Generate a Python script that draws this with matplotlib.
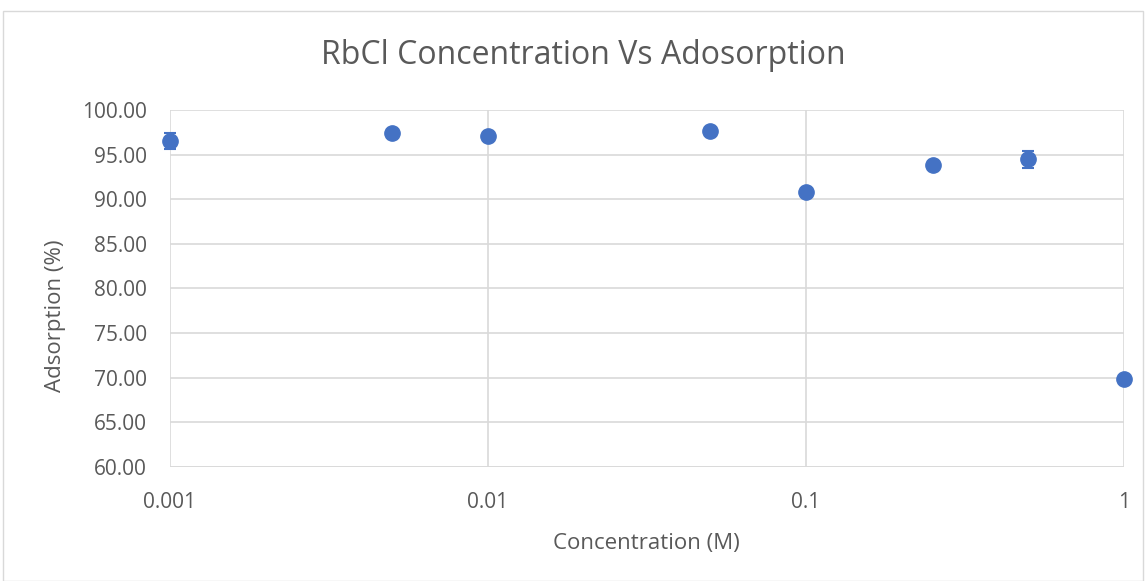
import matplotlib.pyplot as plt
from matplotlib.patches import Rectangle
from matplotlib.ticker import FixedLocator, NullLocator, FuncFormatter

plt.rcParams['font.family'] = ['Open Sans', 'DejaVu Sans']

# RbCl adsorption data
conc = [0.001, 0.005, 0.01, 0.05, 0.1, 0.25, 0.5, 1.0]
adsorption = [96.5, 97.4, 97.1, 97.6, 90.8, 93.8, 94.5, 69.9]
err = [0.9, 0.2, 0.2, 0.2, 0.2, 0.2, 0.95, 0.2]
x_ticks = [0.001, 0.01, 0.1, 1]
x_labels = ['0.001', '0.01', '0.1', '1']
y_ticks = [60, 65, 70, 75, 80, 85, 90, 95, 100]

grey = '#595959'
grid = '#d9d9d9'
blue = '#4472C4'

fig = plt.figure(figsize=(11.46, 5.81), dpi=100)
fig.patches.append(Rectangle((3 / 1146, 0), 1 - 6 / 1146, 1 - 11 / 581,
                             transform=fig.transFigure, fill=False,
                             edgecolor=grid, linewidth=1))
ax = fig.add_axes([0.1483, 0.1962, 0.8325, 0.6145])

ax.errorbar(conc, adsorption, yerr=err, fmt='o', color=blue, markersize=11,
            ecolor=blue, elinewidth=1.5, capsize=4, capthick=1.5, zorder=3,
            clip_on=False)

ax.set_xscale('log')
ax.set_xlim(0.001, 1)
ax.set_ylim(60, 100)
ax.xaxis.set_major_locator(FixedLocator(x_ticks))
ax.xaxis.set_minor_locator(NullLocator())
ax.xaxis.set_major_formatter(FuncFormatter(lambda v, p: x_labels[x_ticks.index(v)] if v in x_ticks else ''))
ax.set_yticks(y_ticks)
ax.yaxis.set_major_formatter(FuncFormatter(lambda v, p: f'{v:.2f}'))

ax.grid(True, color=grid, linewidth=1.2)
ax.set_axisbelow(True)
for s in ax.spines.values():
    s.set_visible(False)
ax.axhline(60, color=grid, linewidth=1.2, zorder=1)
ax.tick_params(length=0, labelsize=15, colors=grey)
ax.tick_params(axis='x', pad=18)
ax.tick_params(axis='y', pad=16.5)

fig.text(0.509, 1 - 55 / 581, 'RbCl Concentration Vs Adosorption',
         fontsize=23, color=grey, ha='center', va='center')
fig.text(646 / 1146, 1 - 544 / 581, 'Concentration (M)',
         fontsize=16, color=grey, ha='center', va='center')
fig.text(55 / 1146, 1 - 316 / 581, 'Adsorption (%)', rotation=90,
         fontsize=16, color=grey, ha='center', va='center')

fig.savefig('out.png', dpi=100)
